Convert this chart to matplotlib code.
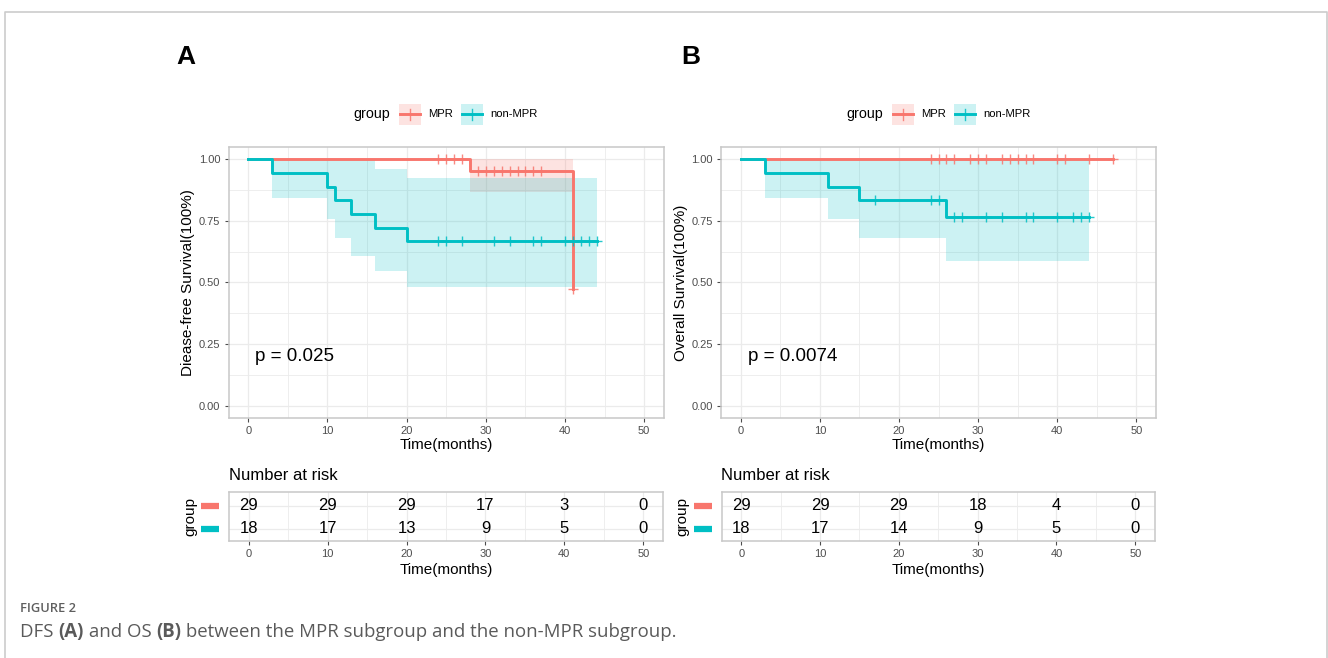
import numpy as np
import matplotlib
matplotlib.use("Agg")
import matplotlib.pyplot as plt
from matplotlib.patches import Rectangle
import matplotlib.transforms as mtransforms

plt.rcParams['font.family'] = ['Liberation Sans', 'DejaVu Sans']

W, H = 1328, 658
RED = '#F8766D'
CYAN = '#00BFC4'
GRID = '#EBEBEB'
FRAME = '#C8C8C8'
TICKC = '#4D4D4D'

# ---- DFS (panel A) ----
dfs_mpr_t = [0, 28, 41]
dfs_mpr_s = [1.0, 0.951, 0.475]
dfs_mpr_lo = [1.0, 0.867, np.nan]
dfs_mpr_hi = [1.0, 1.0, np.nan]
dfs_mpr_end = 41
dfs_mpr_cens = [24, 25, 26, 27, 29, 30, 31, 32, 33, 34, 35, 36, 37, 41]

dfs_non_t = [0, 3, 10, 11, 13, 16, 20]
dfs_non_s = [1.0, 0.944, 0.889, 0.833, 0.778, 0.722, 0.667]
dfs_non_lo = [1.0, 0.845, 0.757, 0.680, 0.608, 0.545, 0.482]
dfs_non_hi = [1.0, 1.0, 1.0, 1.0, 1.0, 0.962, 0.924]
dfs_non_end = 44
dfs_non_cens = [24, 25, 27, 31, 33, 36, 37, 40, 41, 42, 43, 44]

# ---- OS (panel B) ----
os_mpr_t = [0]
os_mpr_s = [1.0]
os_mpr_lo = [1.0]
os_mpr_hi = [1.0]
os_mpr_end = 47
os_mpr_cens = [24, 25, 26, 27, 29, 30, 31, 33, 34, 35, 36, 37, 40, 41, 44, 47]

os_non_t = [0, 3, 11, 15, 26]
os_non_s = [1.0, 0.944, 0.889, 0.833, 0.764]
os_non_lo = [1.0, 0.845, 0.757, 0.680, 0.588]
os_non_hi = [1.0, 1.0, 1.0, 1.0, 1.0]
os_non_end = 44
os_non_cens = [17, 24, 25, 27, 28, 31, 33, 36, 37, 40, 42, 43, 44]

# ---- number at risk ----
risk_times = [0, 10, 20, 30, 40, 50]
dfs_risk_mpr = [29, 29, 29, 17, 3, 0]
dfs_risk_non = [18, 17, 13, 9, 5, 0]
os_risk_mpr = [29, 29, 29, 18, 4, 0]
os_risk_non = [18, 17, 14, 9, 5, 0]

groups = ['MPR', 'non-MPR']
p_values = ['p = 0.025', 'p = 0.0074']
ylabels = ['Diease-free Survival(100%)', 'Overall Survival(100%)']


def px_rect(x0, y0, x1, y1):
    return [x0 / W, 1 - y1 / H, (x1 - x0) / W, (y1 - y0) / H]


def style_axes(ax):
    ax.set_xlim(-2.5, 52.5)
    ax.set_xticks(range(0, 51, 10))
    ax.set_xticks(range(5, 50, 10), minor=True)
    ax.grid(True, which='major', color=GRID, lw=0.9, zorder=0)
    ax.grid(True, which='minor', color=GRID, lw=0.6, zorder=0)
    ax.set_axisbelow(True)
    for sp in ax.spines.values():
        sp.set_color(FRAME)
        sp.set_linewidth(1.1)
    ax.tick_params(which='major', length=3, width=0.8, color=TICKC,
                   labelcolor=TICKC, labelsize=8, pad=2.8)
    ax.tick_params(which='minor', length=0)


def km_curve(ax, t, s, lo, hi, end, cens, color):
    t = np.asarray(t, float)
    s = np.asarray(s, float)
    lo = np.asarray(lo, float)
    hi = np.asarray(hi, float)
    ok = ~np.isnan(lo)
    ct = np.append(t[ok], end)
    clo = np.append(lo[ok], lo[ok][-1])
    chi = np.append(hi[ok], hi[ok][-1])
    ax.fill_between(ct, clo, chi, step='post', color=color, alpha=0.2,
                    lw=0, zorder=2)
    ax.step(np.append(t, end), np.append(s, s[-1]), where='post',
            color=color, lw=2.1, zorder=3)
    idx = np.searchsorted(t, cens, side='right') - 1
    ax.plot(cens, s[idx], ls='none', marker='+', ms=7.5, mew=1.0,
            color=color, alpha=0.85, zorder=4)


def risk_table(ax, mpr, non):
    style_axes(ax)
    ax.set_ylim(-0.52, 1.58)
    ax.set_yticks([0, 1])
    ax.set_yticklabels([])
    ax.tick_params(axis='y', length=0)
    for t, a, b in zip(risk_times, mpr, non):
        ax.text(t, 1, str(a), ha='center', va='center', fontsize=12,
                color='black')
        ax.text(t, 0, str(b), ha='center', va='center', fontsize=12,
                color='black')
    tr = mtransforms.blended_transform_factory(ax.transAxes, ax.transData)
    for yy, c in [(1, RED), (0, CYAN)]:
        ax.plot([-0.064, -0.023], [yy, yy], transform=tr, color=c, lw=4.5,
                solid_capstyle='butt', clip_on=False)
    ax.set_ylabel('group', fontsize=11, color='black', va='center')
    ax.yaxis.set_label_coords(-0.09, 0.5)
    ax.set_xlabel('Time(months)', fontsize=11, color='black', va='center')
    ax.xaxis.set_label_coords(0.5, -0.59)


fig = plt.figure(figsize=(W / 100, H / 100), dpi=100)

panels = [
    (228.5, 664, 188, [(dfs_mpr_t, dfs_mpr_s, dfs_mpr_lo, dfs_mpr_hi, dfs_mpr_end, dfs_mpr_cens, RED),
                       (dfs_non_t, dfs_non_s, dfs_non_lo, dfs_non_hi, dfs_non_end, dfs_non_cens, CYAN)],
     dfs_risk_mpr, dfs_risk_non),
    (721, 1156, 681, [(os_mpr_t, os_mpr_s, os_mpr_lo, os_mpr_hi, os_mpr_end, os_mpr_cens, RED),
                      (os_non_t, os_non_s, os_non_lo, os_non_hi, os_non_end, os_non_cens, CYAN)],
     os_risk_mpr, os_risk_non),
]

for i, (x0, x1, ylx, curves, rmpr, rnon) in enumerate(panels):
    ax = fig.add_axes(px_rect(x0, 147, x1, 418))
    style_axes(ax)
    ax.set_ylim(-0.05, 1.05)
    ax.set_yticks([0, 0.25, 0.5, 0.75, 1.0])
    ax.set_yticks([0.125, 0.375, 0.625, 0.875], minor=True)
    ax.set_yticklabels(['0.00', '0.25', '0.50', '0.75', '1.00'])
    for c in curves:
        km_curve(ax, *c)
    ax.text(0.9, 0.2, p_values[i], fontsize=13.5, ha='left', va='center')
    ax.set_ylabel(ylabels[i], fontsize=11, va='center')
    ax.yaxis.set_label_coords((ylx - x0) / (x1 - x0), 0.5)
    ax.set_xlabel('Time(months)', fontsize=11, va='center')
    ax.xaxis.set_label_coords(0.5, -0.1)

    rt = fig.add_axes(px_rect(x0 + 0.5, 492, x1 - 1, 541))
    risk_table(rt, rmpr, rnon)

# overlay in pixel coordinates for legend, labels, frame and caption
ov = fig.add_axes([0, 0, 1, 1], zorder=10)
ov.set_xlim(0, W)
ov.set_ylim(H, 0)
ov.axis('off')
ov.patch.set_alpha(0)

for dx in [0, 493]:
    ov.text(353 + dx, 114, 'group', fontsize=10.3, ha='left', va='center')
    for kx, c, lab, tx in [(399, RED, groups[0], 428), (461, CYAN, groups[1], 490)]:
        ov.add_patch(Rectangle((kx + dx, 103.5), 21.5, 21, facecolor=c,
                               alpha=0.2, lw=0))
        ov.plot([kx + dx + 1, kx + dx + 20.5], [114, 114], color=c, lw=2.1)
        ov.plot([kx + dx + 10.75] * 2, [108.5, 119.5], color=c, lw=1.0, alpha=0.85)
        ov.text(tx + dx, 114, lab, fontsize=8.1, ha='left', va='center')

for lx, lab in [(229, 'Number at risk'), (721, 'Number at risk')]:
    ov.text(lx, 475, lab, fontsize=12, ha='left', va='center')

ov.text(186, 57, 'A', fontsize=19, fontweight='bold', ha='center', va='center')
ov.text(691, 57, 'B', fontsize=19, fontweight='bold', ha='center', va='center')

# page frame
ov.plot([4.5, 4.5, 1326.5, 1326.5], [H, 12, 12, H], color='#CCCCCC', lw=1.2)

# caption
ov.text(20, 608, 'FIGURE 2', fontsize=9.3, color='#5F5F5F', fontweight='semibold',
        family=['Open Sans', 'DejaVu Sans'], ha='left', va='center')
pieces = [('DFS ', 'normal'), ('(A)', 'bold'), (' and OS ', 'normal'), ('(B)', 'bold'),
          (' between the MPR subgroup and the non-MPR subgroup.', 'normal')]
renderer = fig.canvas.get_renderer()
cx = 20
for txt, wt in pieces:
    t = ov.text(cx, 632, txt, fontsize=13.4, color='#5A5A5A', fontweight=wt,
                family=['Open Sans', 'DejaVu Sans'], ha='left', va='center')
    cx += t.get_window_extent(renderer).width

fig.savefig('out.png', dpi=100)
